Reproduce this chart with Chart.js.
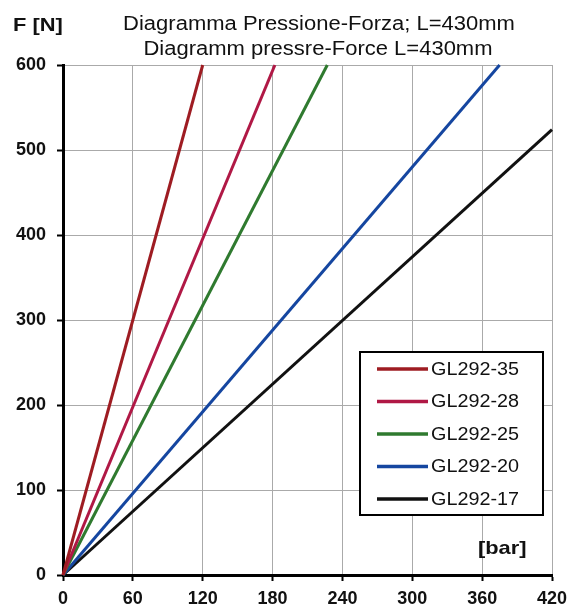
<!DOCTYPE html>
<html><head><meta charset="utf-8">
<script src="https://cdn.jsdelivr.net/npm/chart.js@4"></script>
<style>html,body{margin:0;padding:0;background:#fff}#wrap{width:576px;height:609px}</style>
</head><body><div id="wrap"><canvas id="c" width="576" height="609"></canvas></div>
<script>
const seriesNames = ['GL292-35','GL292-28','GL292-25','GL292-20','GL292-17'];
const seriesColors = ['#9e1c22','#b01845','#2f7a2f','#1546a0','#111111'];
const pressureEnd = [120, 182, 227, 375, 420];
const forceEnd = [600, 600, 600, 600, 524];
const xTicks = [0, 60, 120, 180, 240, 300, 360, 420];
const yTicks = [0, 100, 200, 300, 400, 500, 600];
const titleLines = ['Diagramma Pressione-Forza; L=430mm', 'Diagramm pressre-Force L=430mm'];
const yAxisTitle = 'F [N]';
const xAxisTitle = '[bar]';

const datasets = seriesNames.map((n, i) => ({
  label: n,
  data: [{x: 0, y: 0}, {x: pressureEnd[i], y: forceEnd[i]}],
  borderColor: seriesColors[i],
  backgroundColor: seriesColors[i],
  borderWidth: 3,
  showLine: true,
  pointRadius: 0,
  clip: false
}));

const FONT = '"Liberation Sans", Arial, sans-serif';

function textStretched(ctx, text, x, y, align, sx) {
  ctx.save();
  ctx.translate(x, y);
  ctx.scale(sx, 1);
  ctx.textAlign = align;
  ctx.fillText(text, 0, 0);
  ctx.restore();
}

const decor = {
  id: 'decor',
  afterDatasetsDraw(chart) {
    const ctx = chart.ctx;
    ctx.save();
    ctx.fillStyle = '#111';
    ctx.textBaseline = 'middle';
    ctx.font = '20px ' + FONT;
    textStretched(ctx, titleLines[0], 319, 24, 'center', 1.1);
    textStretched(ctx, titleLines[1], 318, 49, 'center', 1.1);
    ctx.font = 'bold 19px ' + FONT;
    textStretched(ctx, yAxisTitle, 13, 26, 'left', 1.15);
    textStretched(ctx, xAxisTitle, 478, 549, 'left', 1.15);
    // legend
    const bx = 360, by = 352, bw = 183, bh = 163;
    ctx.fillStyle = '#fff';
    ctx.fillRect(bx, by, bw, bh);
    ctx.strokeStyle = '#000';
    ctx.lineWidth = 2;
    ctx.strokeRect(bx, by, bw, bh);
    ctx.font = '18px ' + FONT;
    chart.data.datasets.forEach((ds, i) => {
      const y = 369 + i * 32.5;
      ctx.strokeStyle = ds.borderColor;
      ctx.lineWidth = 3.5;
      ctx.beginPath();
      ctx.moveTo(377, y);
      ctx.lineTo(428, y);
      ctx.stroke();
      ctx.fillStyle = '#111';
      textStretched(ctx, ds.label, 431, y + 1, 'left', 1.1);
    });
    ctx.restore();
  }
};

new Chart(document.getElementById('c'), {
  type: 'scatter',
  data: { datasets },
  plugins: [decor],
  options: {
    responsive: false,
    animation: false,
    devicePixelRatio: 1,
    layout: { padding: { left: 0, right: 24, top: 65, bottom: 0 } },
    plugins: { legend: { display: false }, title: { display: false }, tooltip: { enabled: false } },
    scales: {
      x: {
        type: 'linear', min: 0, max: 420,
        afterBuildTicks: s => { s.ticks = xTicks.map(v => ({value: v})); },
        afterFit: s => { s.height = 34; },
        ticks: { color: '#111', font: { family: FONT, size: 18, weight: 'bold' }, padding: 7, maxRotation: 0 },
        grid: { color: '#aaaaaa', lineWidth: 1, tickColor: '#000', tickLength: 6, tickWidth: 2 },
        border: { color: '#000', width: 3 }
      },
      y: {
        type: 'linear', min: 0, max: 600,
        afterBuildTicks: s => { s.ticks = yTicks.map(v => ({value: v})); },
        afterFit: s => { s.width = 63; },
        ticks: { color: '#111', font: { family: FONT, size: 18, weight: 'bold' }, padding: 11 },
        grid: { color: '#aaaaaa', lineWidth: 1, tickColor: '#000', tickLength: 6, tickWidth: 2 },
        border: { color: '#000', width: 3 }
      }
    }
  }
});
</script></body></html>
